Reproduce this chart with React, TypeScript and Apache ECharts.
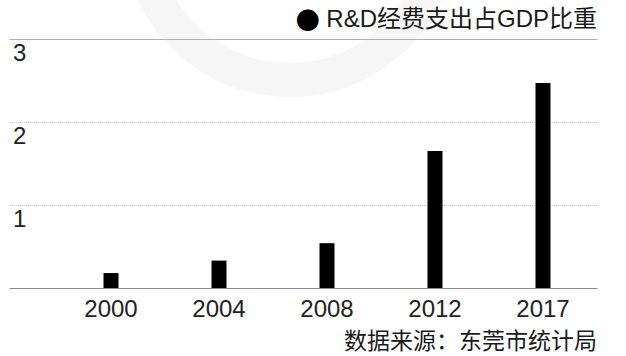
import React, { useEffect, useRef } from "react";
import * as echarts from "echarts";

const years = ["2000", "2004", "2008", "2012", "2017"];
const rdShare = [0.18, 0.33, 0.54, 1.65, 2.47];
const yTicks = [0, 1, 2, 3];
const titleText = " R&D经费支出占GDP比重";
const sourceText = "数据来源：东莞市统计局";

const FONT = "'Liberation Sans', Arial, 'Noto Sans CJK SC', sans-serif";

export default function App() {
  const ref = useRef<HTMLDivElement>(null);
  useEffect(() => {
    if (!ref.current) return;
    const chart = echarts.init(ref.current, null, { renderer: "svg" });
    const yMax = yTicks[yTicks.length - 1];
    chart.setOption({
      animation: false,
      backgroundColor: "#ffffff",
      textStyle: { fontFamily: FONT },
      graphic: [
        {
          type: "arc",
          z: -10,
          silent: true,
          shape: { cx: 290, cy: -70, r: 150, startAngle: 0.12 * Math.PI, endAngle: 0.93 * Math.PI },
          style: { stroke: "#f6f6f6", lineWidth: 34, fill: "none" },
        },
      ],
      title: [
        {
          text: "{d|●}" + titleText,
          right: 29,
          top: 6,
          padding: 0,
          textStyle: {
            fontSize: 24,
            fontWeight: "normal",
            color: "#1a1a1a",
            fontFamily: FONT,
            rich: {
              d: { fontSize: 24, fontFamily: "'Noto Sans CJK SC'", color: "#000" },
            },
          },
        },
        {
          text: sourceText,
          right: 29,
          top: 329,
          padding: 0,
          textStyle: { fontSize: 23, fontWeight: "normal", color: "#1a1a1a", fontFamily: FONT },
        },
      ],
      grid: [
        { left: 10, right: 29, top: 39, bottom: 68, containLabel: false },
        { left: 57, right: 29, top: 39, bottom: 68, containLabel: false },
      ],
      xAxis: [
        {
          gridIndex: 0,
          type: "category",
          data: [""],
          position: "bottom",
          axisLine: { show: true, lineStyle: { color: "#8a8a8a", width: 1 } },
          axisTick: { show: false },
          axisLabel: { show: false },
          splitLine: { show: false },
        },
        {
          gridIndex: 0,
          type: "category",
          data: [""],
          position: "top",
          axisLine: { show: true, lineStyle: { color: "#b0b0b0", width: 1 } },
          axisTick: { show: false },
          axisLabel: { show: false },
          splitLine: { show: false },
        },
        {
          gridIndex: 1,
          type: "category",
          data: years,
          position: "bottom",
          axisLine: { show: false },
          axisTick: { show: false },
          axisLabel: {
            show: true,
            fontSize: 24,
            color: "#222",
            margin: 8,
            fontFamily: FONT,
          },
          splitLine: { show: false },
        },
      ],
      yAxis: [
        {
          gridIndex: 0,
          type: "value",
          min: 0,
          max: yMax,
          interval: 1,
          axisLine: { show: false },
          axisTick: { show: false },
          axisLabel: {
            show: true,
            inside: true,
            showMinLabel: false,
            fontSize: 24,
            color: "#222",
            margin: 3,
            align: "left",
            verticalAlign: "top",
            padding: [2, 0, 0, 0],
            fontFamily: FONT,
          },
          splitLine: { show: true, lineStyle: { color: "#c8c8c8", type: "dotted", width: 1 } },
        },
        {
          gridIndex: 1,
          type: "value",
          min: 0,
          max: yMax,
          interval: 1,
          show: false,
          splitLine: { show: false },
        },
      ],
      series: [
        {
          type: "bar",
          xAxisIndex: 2,
          yAxisIndex: 1,
          data: rdShare,
          barWidth: 15,
          itemStyle: { color: "#000000" },
          z: 5,
        },
      ],
    });
    return () => chart.dispose();
  }, []);
  return (
    <div
      ref={ref}
      style={{ position: "absolute", left: 0, top: 0, width: 626, height: 356 }}
    />
  );
}
